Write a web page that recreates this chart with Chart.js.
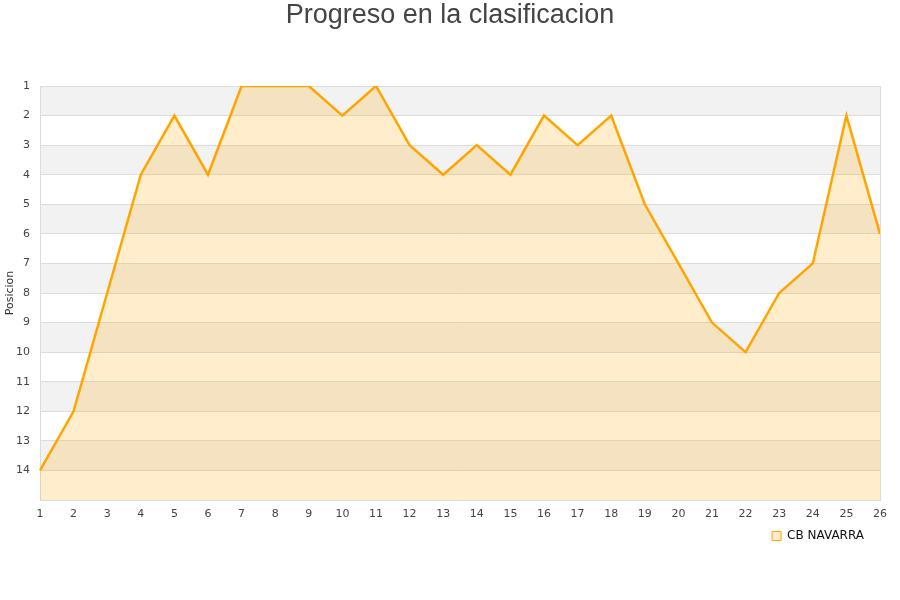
<!DOCTYPE html>
<html>
<head>
<meta charset="utf-8">
<script src="https://cdn.jsdelivr.net/npm/chart.js@4/dist/chart.umd.min.js"></script>
<style>
html,body{margin:0;padding:0;background:#fff;}
#wrap{width:900px;height:600px;position:relative;}
</style>
</head>
<body>
<div id="wrap"><canvas id="c" width="900" height="600"></canvas></div>
<script>
const jornadas = ['1','2','3','4','5','6','7','8','9','10','11','12','13','14','15','16','17','18','19','20','21','22','23','24','25','26'];
const posiciones = [14,12,8,4,2,4,1,1,1,2,1,3,4,3,4,2,3,2,5,7,9,10,8,7,2,6];
const serieNombre = 'CB NAVARRA';
const tituloGrafico = 'Progreso en la clasificacion';
const tituloEjeY = 'Posicion';
const posMin = 1;
const posMax = 15;

const bandPlugin = {
  id: 'bands',
  afterLayout(chart) {
    // let x tick labels extend below the compact axis box (avoid clipping)
    chart.scales.x.bottom = chart.scales.x.top + 30;
  },
  beforeDraw(chart) {
    const {ctx, chartArea, scales} = chart;
    const y = scales.y;
    ctx.save();
    ctx.fillStyle = '#f2f2f2';
    for (let v = posMin; v < posMax; v += 2) {
      const p1 = y.getPixelForValue(v);
      const p2 = y.getPixelForValue(v + 1);
      ctx.fillRect(chartArea.left, Math.min(p1, p2), chartArea.right - chartArea.left, Math.abs(p2 - p1));
    }
    ctx.fillStyle = '#444';
    ctx.font = '27px "Liberation Sans"';
    ctx.textAlign = 'center';
    ctx.textBaseline = 'middle';
    ctx.fillText(tituloGrafico, chart.width / 2, 16);
    ctx.restore();
  },
  afterDatasetsDraw(chart) {
    const {ctx, chartArea} = chart;
    ctx.save();
    ctx.strokeStyle = '#dcdcdc';
    ctx.lineWidth = 1;
    ctx.beginPath();
    ctx.moveTo(Math.round(chartArea.right) + 0.5, chartArea.top);
    ctx.lineTo(Math.round(chartArea.right) + 0.5, chartArea.bottom);
    ctx.stroke();
    ctx.restore();
  }
};

new Chart(document.getElementById('c'), {
  type: 'line',
  data: {
    labels: jornadas,
    datasets: [{
      label: serieNombre,
      data: posiciones,
      borderColor: '#FFA500',
      backgroundColor: 'rgba(255,165,0,0.2)',
      borderWidth: 2.5,
      pointRadius: 0,
      tension: 0,
      fill: 'start'
    }]
  },
  options: {
    responsive: false,
    animation: false,
    devicePixelRatio: 1,
    layout: { padding: { left: 0, right: 20, top: 86, bottom: 48 } },
    plugins: {
      title: { display: false },
      legend: {
        position: 'bottom',
        align: 'end',
        labels: {
          boxWidth: 9,
          boxHeight: 9,
          color: '#111',
          font: { family: 'DejaVu Sans', size: 12 },
          padding: 16,
          generateLabels(chart) {
            return Chart.defaults.plugins.legend.labels.generateLabels(chart).map(l => Object.assign(l, { lineWidth: 1 }));
          }
        }
      },
      tooltip: { enabled: false }
    },
    scales: {
      x: {
        type: 'category',
        offset: false,
        grid: { display: false, drawTicks: false },
        border: { display: true, color: '#dcdcdc' },
        ticks: { color: '#444', font: { family: 'DejaVu Sans', size: 11 }, padding: 8, maxRotation: 0, autoSkip: false },
        afterFit(s) { s.height = 14; }
      },
      y: {
        reverse: true,
        min: posMin,
        max: posMax,
        title: { display: true, text: tituloEjeY, color: '#333', font: { family: 'DejaVu Sans', size: 11 }, padding: { top: 4, bottom: 0 } },
        grid: { color: '#dcdcdc', drawTicks: false },
        border: { display: true, color: '#dcdcdc' },
        ticks: {
          stepSize: 1,
          color: '#444',
          font: { family: 'DejaVu Sans', size: 11 },
          padding: 10,
          callback(v) { return v === posMax ? '' : String(v); }
        },
        afterFit(s) { s.width = 40; }
      }
    }
  },
  plugins: [bandPlugin]
});
</script>
</body>
</html>
